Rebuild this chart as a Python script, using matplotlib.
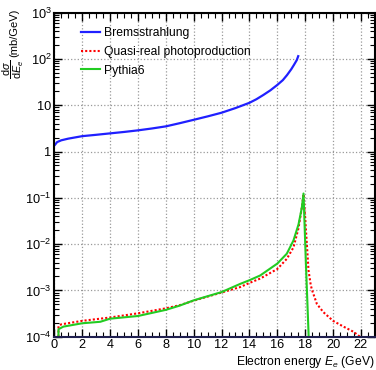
import matplotlib
matplotlib.use("Agg")
import matplotlib.pyplot as plt
from matplotlib.ticker import FixedLocator, FixedFormatter, MultipleLocator, LogLocator, NullFormatter

plt.rcParams['font.family'] = ['Liberation Sans', 'DejaVu Sans']
plt.rcParams['mathtext.fontset'] = 'custom'
plt.rcParams['mathtext.rm'] = 'Liberation Sans'
plt.rcParams['mathtext.it'] = 'Liberation Sans:italic'
plt.rcParams['mathtext.sf'] = 'Liberation Sans'

# Bremsstrahlung
brem_E = [0.05, 0.2, 0.5, 1.0, 2, 3, 4, 5, 6, 7, 8, 9, 10, 11, 12, 13, 14, 14.5, 15, 15.5,
          16, 16.4, 16.7, 17.0, 17.2, 17.4, 17.5]
brem = [1.4, 1.6, 1.75, 1.9, 2.15, 2.3, 2.47, 2.65, 2.87, 3.15, 3.5, 4.1, 4.85, 5.75, 6.9,
        8.7, 11.3, 13.5, 16.7, 21, 27.5, 35, 45, 60, 75, 95, 115]

# Quasi-real photoproduction
qr_E = [0.3, 0.3, 0.5, 2, 4, 6, 8, 9, 10, 12, 13.33, 14, 14.77, 16, 16.68, 17.16, 17.52,
        17.76, 17.88, 18.0, 18.12, 18.24, 18.4, 18.5, 18.84, 19.3, 20, 20.75, 21.46, 21.93]
qr = [1e-4, 1.7e-4, 1.85e-4, 2.2e-4, 2.6e-4, 3.2e-4, 4.1e-4, 4.8e-4, 6.0e-4, 9.0e-4, 1.18e-3,
      1.45e-3, 1.8e-3, 2.9e-3, 4.8e-3, 8.5e-3, 2.2e-2, 6.2e-2, 0.12, 3.7e-2, 1e-2, 2.7e-3,
      1.3e-3, 1.0e-3, 5.1e-4, 3.4e-4, 2.2e-4, 1.65e-4, 1.28e-4, 1e-4]

# Pythia6
py_E = [0.3, 0.3, 0.65, 2, 3.3, 4, 6, 8, 9, 10, 12, 13.33, 14, 14.77, 16, 16.68, 17.16,
        17.52, 17.76, 17.88, 18.05, 18.25]
py = [1e-4, 1.45e-4, 1.65e-4, 1.95e-4, 2.1e-4, 2.45e-4, 2.8e-4, 3.8e-4, 4.7e-4, 6.1e-4,
      9.2e-4, 1.38e-3, 1.66e-3, 2.1e-3, 3.8e-3, 6.2e-3, 1.2e-2, 2.65e-2, 6.1e-2, 0.124,
      4e-3, 1e-4]

ytick_vals = [1e-4, 1e-3, 1e-2, 1e-1, 1, 10, 1e2, 1e3]
ytick_labels = ['$10^{-4}$', '$10^{-3}$', '$10^{-2}$', '$10^{-1}$', '1', '10', '$10^{2}$', '$10^{3}$']

fig = plt.figure(figsize=(3.76, 3.70), dpi=100)
ax = fig.add_axes([0.1444, 0.09, 0.8526, 0.8757])

ax.plot(brem_E, brem, color='#2020ff', lw=1.6, label='Bremsstrahlung')
ax.plot(qr_E, qr, color='#ff0000', lw=1.5, ls=(0, (1, 1)), label='Quasi-real photoproduction')
ax.plot(py_E, py, color='#22cc22', lw=1.5, label='Pythia6')

ax.set_yscale('log')
ax.set_xlim(0, 23)
ax.set_ylim(1e-4, 1e3)

ax.xaxis.set_major_locator(MultipleLocator(2))
ax.xaxis.set_minor_locator(MultipleLocator(0.5))
ax.yaxis.set_major_locator(FixedLocator(ytick_vals))
ax.yaxis.set_major_formatter(FixedFormatter(ytick_labels))
ax.yaxis.set_minor_locator(LogLocator(base=10, subs=range(2, 10), numticks=20))
ax.yaxis.set_minor_formatter(NullFormatter())

ax.tick_params(which='both', direction='in', top=True, right=True, labelsize=9.2, pad=2)
ax.tick_params(which='major', length=6, width=1)
ax.tick_params(which='minor', length=3.5, width=0.8)

ax.grid(True, which='major', color='#999999', ls=':', lw=0.9)

for s in ['left', 'top', 'right']:
    ax.spines[s].set_linewidth(1.5)
    ax.spines[s].set_color('black')
ax.spines['bottom'].set_linewidth(1.5)
ax.spines['bottom'].set_color('#202050')

# y-axis title: unit text and fraction
fig.text(14 / 376, 1 - 9 / 370, '(mb/GeV)', rotation=90, ha='center', va='top', fontsize=8)
fig.text(13.5 / 376, 1 - 69 / 370, r'$\dfrac{\mathrm{d}\sigma}{\mathrm{d}E_{e}}$', rotation=90,
         ha='center', va='center', fontsize=7.8)

ax.set_xlabel(r'Electron energy $E_{e}$ (GeV)', loc='right', fontsize=8.7, labelpad=2)

ax.legend(loc='upper left', bbox_to_anchor=(0.068, 0.97), frameon=False, fontsize=8.7,
          handlelength=1.6, handletextpad=0.3, labelspacing=0.55, borderaxespad=0)

fig.savefig('out.png', dpi=100)
